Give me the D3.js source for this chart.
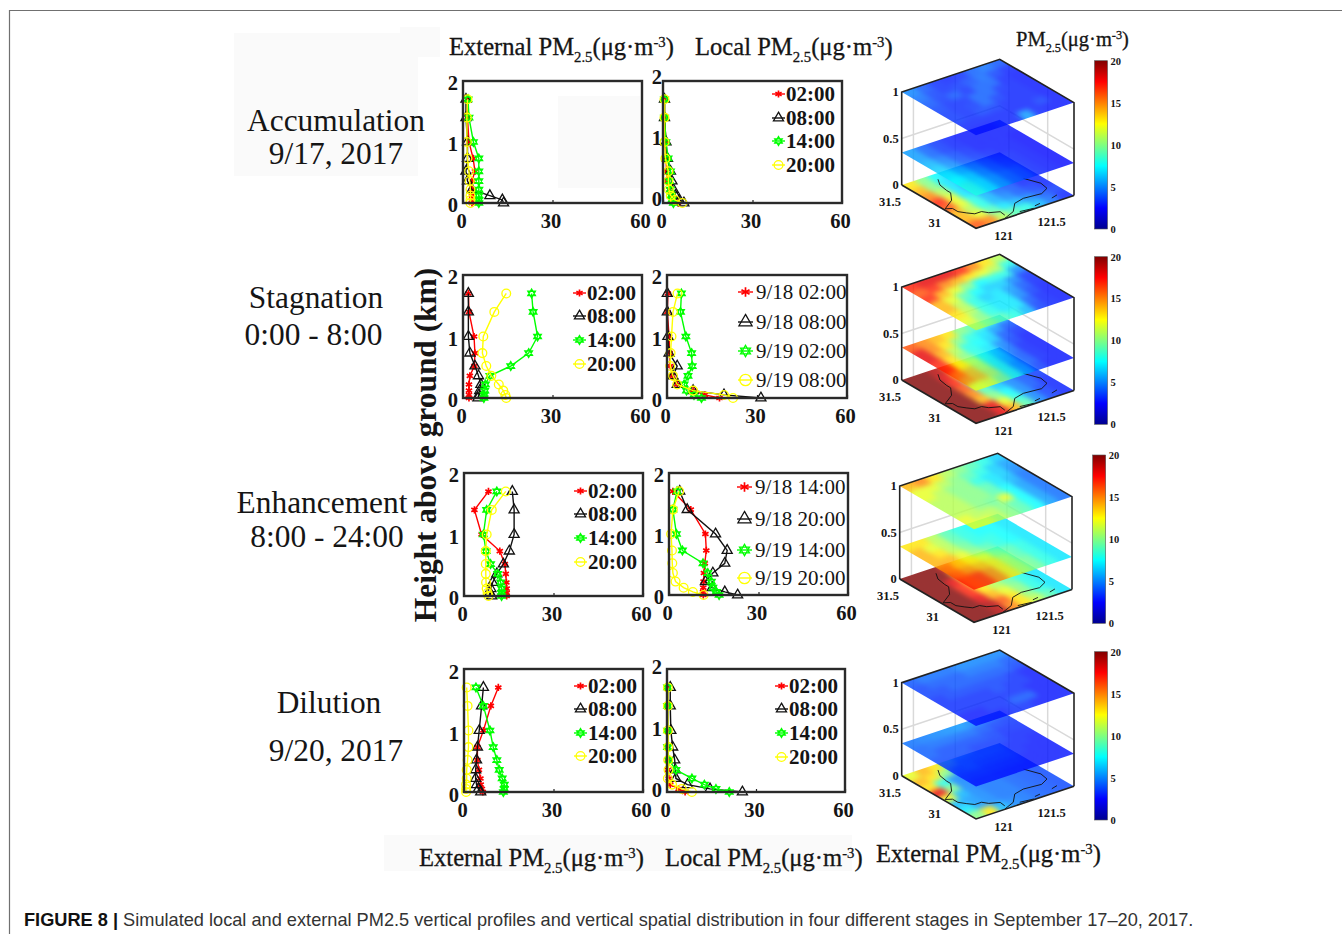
<!DOCTYPE html>
<html>
<head>
<meta charset="utf-8">
<script src="https://cdn.jsdelivr.net/npm/d3@7"></script>
<style>
  html, body { margin: 0; padding: 0; background: #fff; }
  svg { display: block; }
  text { font-family: "Liberation Serif", serif; fill: #151515; }
</style>
</head>
<body>
<div id="chart"></div>
<script>
// heights of the model levels (km)
var heights = [0, 0.05, 0.12, 0.22, 0.36, 0.52, 0.73, 1, 1.4, 1.7];

var timeLabels = ['02:00', '08:00', '14:00', '20:00'];
var dateLabelsA = ['9/18 02:00', '9/18 08:00', '9/19 02:00', '9/19 08:00'];
var dateLabelsB = ['9/18 14:00', '9/18 20:00', '9/19 14:00', '9/19 20:00'];
var seriesColors = ['#ff0000', '#111111', '#00ff00', '#ffff00'];
var seriesSymbols = ['asterisk', 'triangle', 'hexagram', 'circle'];

var xTicks = [0, 30, 60];
var yTicks = [0, 1, 2];
var barTicks = [0, 5, 10, 15, 20];

// profiles: red, black, green, yellow, each from the ground up
var accExternal = [
  [3, 3, 3, 3, 3, 4, 3.4, 2, 1.5, 1.5],
  [13.6, 13.2, 9, 3, 1.5, 1, 1.5, 1.5, 1, 1],
  [5.3, 5.3, 5.3, 5.3, 5.3, 5.3, 5.3, 3.5, 2, 1.7],
  [2.5, 2.5, 2.5, 2.5, 2.2, 2, 1.5, 1.3, 1.3, 1.5]
];
var accLocal = [
  [5, 3.8, 2.8, 2.2, 1.5, 1.2, 1, 1, 0.5, 0.5],
  [7, 5.5, 4.2, 3.5, 3, 2.5, 1.5, 1, 0.5, 0.5],
  [3.5, 3, 2.8, 2.5, 2.2, 2.5, 1.7, 1, 0.5, 0.5],
  [6.5, 4, 2.6, 2, 1.8, 1.8, 0.8, 0.5, 0.5, 0.5]
];
var stagExternal = [
  [2, 2, 2, 2, 2.3, 3.8, 4, 3.7, 2, 1.8],
  [5, 5.3, 5.6, 6, 5.2, 4, 2.3, 1.8, 1.8, 1.8],
  [7, 7.1, 7.3, 7.5, 9, 16, 22, 25, 23.5, 23],
  [14.5, 14.2, 13.5, 12, 9.5, 7.8, 6.5, 6.8, 10.5, 14.5]
];
var stagLocal = [
  [17.5, 12.6, 8.7, 3.4, 1.8, 1.1, 0.9, 0.7, 0.1, 0.3],
  [31.3, 19, 8.7, 3.4, 2, 3.4, 0.7, 0.3, 0.1, 0.1],
  [11.5, 9, 6.5, 5.7, 7, 8.4, 8.2, 6.3, 4.5, 4.8],
  [22, 19, 8.7, 3.4, 2, 1.1, 1.2, 1.5, 2, 3.5]
];
var enhExternal = [
  [14.3, 14.3, 14.3, 14.2, 14, 13.7, 12, 5.9, 3.5, 8.2],
  [9.3, 8.7, 9, 9.6, 11, 13.2, 15.2, 16.8, 16.8, 16.2],
  [12.6, 12.6, 12.6, 12.3, 11.3, 8.9, 7.4, 6.5, 7.6, 11],
  [8.2, 7.9, 7.6, 7.4, 7.3, 7.3, 7.3, 7.6, 9.3, 14]
];
var enhLocal = [
  [11.5, 11.4, 11.5, 11.6, 11.7, 12, 12.5, 12.2, 7.3, 1.3],
  [23, 18.7, 14.5, 12.2, 14.7, 18.7, 19.5, 15.6, 6.1, 3.6],
  [16.8, 15.9, 14.7, 14.2, 13, 11.4, 4.5, 2.5, 1.3, 2.7],
  [11.6, 8, 4.9, 2.2, 1.3, 1.1, 1, 0.7, 1.3, 3.4]
];
var dilExternal = [
  [6.3, 6, 5.6, 5.5, 5, 4.5, 4.5, 6.5, 9, 11.5],
  [5.6, 4.8, 4.2, 3.9, 3.9, 4.2, 4.5, 5.1, 5.9, 6.5],
  [13.2, 13.5, 13.5, 12.8, 11.8, 11, 9.8, 8.7, 6.5, 4],
  [0.7, 0.7, 0.7, 0.9, 0.9, 1.2, 1.5, 1.5, 1.2, 0.9]
];
var dilLocal = [
  [6.1, 3.9, 1.1, 0.6, 0.3, 0.2, 0.2, 0.2, 0.2, 0.2],
  [25.4, 14.5, 6.9, 3, 2.8, 2.6, 1.9, 1.3, 1.1, 1.1],
  [21, 16.5, 12.6, 8.4, 3, 0.6, 0.2, 0.2, 0.2, 0.2],
  [8.4, 5, 1.7, 0.3, 0.5, 0.4, 0.4, 0.3, 0.3, 0.3]
];

// map slices, PM2.5 read on a coarse grid. Rows run north to south, columns west to east
var accTop = [
  [5, 4, 3.2, 3, 3.2, 4.2, 4.6, 4], [4.5, 3.6, 3.2, 3.4, 3.8, 4.4, 3.6, 3],
  [4, 3.4, 4, 3.2, 4.2, 4.2, 3, 2.8], [3.6, 3.2, 3.2, 4.2, 4.2, 3.2, 3, 2.8],
  [3.4, 3.2, 3.4, 4.2, 3.4, 3, 3, 2.8], [3.4, 3.2, 3.6, 3.4, 3, 3, 3, 2.8],
  [3, 3, 3, 3, 3, 3, 3.5, 2.8], [2.8, 2.8, 3, 3, 5.5, 3, 2.8, 2.8]
];
var accMid = [
  [5.5, 4.2, 3.4, 3, 2.8, 2.8, 2.8, 2.8], [5.5, 4.2, 3.4, 3, 2.8, 2.8, 2.8, 2.8],
  [6, 4.8, 3.8, 3.2, 2.8, 2.8, 2.8, 2.6], [6.5, 5.2, 4, 3.4, 3, 2.8, 2.8, 2.6],
  [7, 5.8, 4.6, 3.8, 3.2, 3, 2.8, 2.6], [7.5, 6.5, 5, 4, 3.4, 3, 2.8, 2.6],
  [8, 7, 5.5, 4.4, 3.8, 3, 2.8, 2.6], [8, 7, 5.5, 4.4, 3.8, 3, 2.8, 2.6]
];
var accBase = [
  [13, 10, 7.5, 6, 5, 4, 3, 3], [14, 10, 7, 6, 5, 4, 3, 3],
  [15, 11, 7, 5, 4, 3.5, 3, 3], [17, 12, 7, 5.5, 4, 3.5, 3, 3],
  [16, 12, 8, 6, 4.5, 4, 3, 3], [14, 11, 8, 6, 5, 4, 3.5, 3],
  [14, 12, 9, 7, 6, 5, 4, 3.5], [16, 15, 11, 9, 8, 6, 4.5, 3]
];
var stagTop = [
  [17, 18, 18, 18, 17, 15, 13, 11], [16, 17, 15, 14, 13, 12, 11, 8],
  [17, 14, 12, 10, 7.5, 8, 8, 5], [14, 12, 9, 7.5, 6.5, 6.5, 5, 3.2],
  [14, 11, 8, 6.5, 7, 5.5, 4, 3], [13, 11, 8, 7, 7, 5, 3.5, 2.8],
  [12, 10, 8, 7, 7, 4, 3, 2.8], [11, 10, 9, 8, 6, 3.5, 3, 2.8]
];
var stagMid = [
  [16, 15, 14, 13, 10, 9, 8, 6.5], [18, 15, 13, 10, 8, 7, 5.5, 4],
  [18, 14, 11, 8, 7.5, 6.5, 4, 3.2], [17, 13, 10, 8, 7, 5, 3.5, 2.8],
  [17, 13, 11, 8, 6.5, 4.5, 3, 2.8], [16, 14, 11, 8, 6, 4, 3, 2.8],
  [15, 14, 11, 8, 5.5, 4, 3, 2.8], [12, 12, 10, 8, 5.5, 3.5, 2.8, 2.8]
];
var stagBase = [
  [20, 20, 19, 16, 12, 9, 6, 4], [20, 20, 18, 13, 8, 6.5, 4.5, 4],
  [20, 20, 17, 10, 7, 5, 4, 3.5], [20, 20, 16, 9, 6.5, 5, 4, 3.5],
  [20, 20, 15, 9, 6.5, 5, 4, 3.5], [20, 20, 14, 10, 7.5, 5, 4, 3],
  [20, 20, 18, 12, 8, 5, 3.5, 3], [20, 20, 18, 14, 9, 5, 3.5, 3]
];
var enhTop = [
  [14, 15, 13, 11, 10, 9, 8, 6.5], [12, 12, 11, 10, 9, 8, 6.5, 5.5],
  [12, 11, 10, 10, 8, 7, 6.5, 5], [11, 11, 10, 10, 9, 7, 6, 4.5],
  [11, 11, 10, 10, 9, 7.5, 5.5, 4.5], [11, 11, 10, 9.5, 12, 7.5, 5.5, 4.5],
  [12, 11, 11, 10, 9, 7.5, 5.5, 4.5], [12, 12, 11, 10, 9, 7.5, 5.5, 4.5]
];
var enhMid = [
  [13, 13, 11, 9, 8, 7.5, 7.5, 7], [14, 12, 11, 9, 8, 7.5, 7.5, 7],
  [14, 13, 11, 9.5, 8, 8, 7.5, 7], [14, 14, 12, 10, 9, 8, 7.5, 7],
  [15, 14, 13, 12, 10, 9, 8, 7], [16, 15, 14, 13, 11, 9, 8, 7],
  [17, 17, 15, 13, 11, 9.5, 8, 7], [17, 17, 15, 13, 11, 9.5, 8, 7]
];
var enhBase = [
  [20, 20, 20, 17, 13, 11, 9, 8], [20, 20, 20, 14, 11, 10, 8.5, 7.5],
  [20, 20, 18, 13, 11, 9.5, 8, 7], [20, 20, 17, 13, 11, 9.5, 8, 7],
  [20, 20, 17, 13, 11, 9.5, 8, 7], [20, 20, 18, 14, 12, 10, 8, 7],
  [20, 20, 19, 16, 13, 10, 8, 7], [20, 20, 19, 15, 13, 11, 9, 7]
];
var dilTop = [
  [4, 4.5, 4.5, 4.5, 5, 5, 5, 5], [3.6, 4, 4, 4, 4.5, 4.5, 4.5, 4],
  [3.6, 3.6, 4, 4, 4, 4, 4, 3.6], [3.2, 3.6, 3.6, 3.6, 3.6, 3.6, 3.2, 2.8],
  [3.2, 3.2, 3.2, 3.2, 3.6, 3.2, 3.2, 2.8], [3.2, 3.2, 3.2, 3.2, 3.2, 3.2, 2.8, 2.8],
  [2.8, 2.8, 3.2, 3.2, 4, 4, 2.8, 2.8], [2.8, 2.8, 2.8, 3.2, 3.2, 2.8, 2.8, 2.8]
];
var dilMid = [
  [4.6, 4.8, 5, 5.2, 5.4, 5, 4.4, 4], [4.2, 4.4, 4.4, 4.4, 4.4, 4, 3.6, 3.4],
  [4.2, 3.8, 3.8, 3.8, 3.8, 3.6, 3.2, 3.2], [3.8, 3.8, 3.8, 3.4, 3.4, 3.4, 3, 3],
  [3.4, 3.4, 3.4, 3.4, 3.4, 3, 3, 2.8], [3.2, 3.4, 3.2, 3.2, 3.2, 3, 2.8, 2.8],
  [3, 3, 3, 3, 3, 2.8, 2.8, 2.8], [2.8, 2.8, 2.8, 2.8, 2.8, 2.8, 2.8, 2.8]
];
var dilBase = [
  [12, 14, 13, 9, 5, 4.4, 4.2, 4], [14, 13, 10, 5, 4.6, 4.4, 4.2, 4],
  [13, 8, 5, 4.6, 4.6, 4.2, 4, 3.8], [18, 10, 5, 4.6, 4.6, 4.2, 4, 3.8],
  [12, 6, 5, 4.6, 4.6, 4.2, 4, 3.8], [6, 5.4, 5, 4.6, 4.6, 4.2, 4, 3.8],
  [7, 5.4, 5, 4.6, 4.6, 4.2, 4, 3.8], [10, 13, 6, 5, 4.6, 4.2, 4, 3.8]
];

var sliceLevels = [0, 0.35, 1];    // km, base, middle, top

// coastline, [lon, lat]
var coastWest = [[121.21, 31.53], [121.15, 31.44], [121.13, 31.33], [121.13, 31.28], [121.04, 31.17],
  [120.88, 31.08], [120.94, 31.05], [120.94, 30.98], [120.99, 30.92], [121.04, 30.87],
  [121.12, 30.87], [121.16, 30.82], [121.26, 30.78], [121.25, 30.71]];
var coastEast = [[121.21, 30.665], [121.36, 30.72], [121.48, 30.83], [121.61, 30.86], [121.81, 30.84],
  [121.92, 30.89], [121.94, 30.99], [121.87, 31.14]];
var islandA = [[121.41, 30.69], [121.56, 30.67]];
var islandB = [[121.6, 30.70], [121.67, 30.71]];
var islandC = [[121.83, 30.73], [121.91, 30.75]];

var width = 1342, height = 934;

var svg = d3.select('#chart').append('svg')
    .attr('width', width)
    .attr('height', height);
var defs = svg.append('defs');

// soft greys left in the scan behind the labels
var patches = [[234, 33, 184, 143], [400, 27, 40, 30], [558, 96, 82, 92], [384, 835, 468, 36]];
svg.selectAll('rect.patch').data(patches).enter().append('rect')
    .attr('class', 'patch')
    .attr('x', function(d){ return d[0]; })
    .attr('y', function(d){ return d[1]; })
    .attr('width', function(d){ return d[2]; })
    .attr('height', function(d){ return d[3]; })
    .attr('fill', '#fafafa');

// page frame
svg.append('path')
   .attr('d', 'M9.5,934V10.5H1342')
   .attr('fill', 'none')
   .attr('stroke', '#707070')
   .attr('stroke-width', 1.2);

// ---------- profile panels ----------
var hexagram = {
    draw: function(ctx, size){
        var r = Math.sqrt(size) * 0.78;
        for (var k = 0; k < 2; k++) {
            for (var i = 0; i < 3; i++) {
                var a = Math.PI * (k + 2 * i) / 3 - Math.PI / 2;
                var px = r * Math.cos(a), py = r * Math.sin(a);
                if (i === 0) ctx.moveTo(px, py); else ctx.lineTo(px, py);
            }
            ctx.closePath();
        }
    }
};
var symbolTypes = {
    asterisk: d3.symbolAsterisk,
    triangle: d3.symbolTriangle,
    hexagram: hexagram,
    circle: d3.symbolCircle
};
var symbolSizes = { asterisk: 36, triangle: 44, hexagram: 32, circle: 60 };

function drawMarker(sel, idx, k) {
    var name = seriesSymbols[idx];
    sel.append('path')
       .attr('d', d3.symbol().type(symbolTypes[name]).size(symbolSizes[name] * k * k)())
       .attr('fill', 'none')
       .attr('stroke', seriesColors[idx])
       .attr('stroke-width', name === 'asterisk' ? 1.7 : 1.3);
}

// x0, x1, y0 (top), y1 (bottom), y label shift and gap, legend place
var panels = [
    { box: [463, 642, 81, 203],  yShift: 2,  yGap: 5, series: accExternal },
    { box: [663, 842, 81, 203],  yShift: -4, yGap: 1, series: accLocal, labels: timeLabels,
      legend: { x: 772, ys: [94, 118, 141, 165], w: 13, bold: true, k: 1 } },
    { box: [463, 642, 275, 398], yShift: 2,  yGap: 5, series: stagExternal, labels: timeLabels,
      legend: { x: 573, ys: [293, 316, 340, 364], w: 13, bold: true, k: 1 } },
    { box: [667, 847, 275, 398], yShift: 2,  yGap: 5, series: stagLocal, labels: dateLabelsA,
      legend: { x: 738, ys: [292, 322, 351, 380], w: 15, bold: false, k: 1.3 } },
    { box: [464, 643, 473, 596], yShift: 2,  yGap: 5, series: enhExternal, labels: timeLabels,
      legend: { x: 574, ys: [491, 514, 538, 562], w: 13, bold: true, k: 1 } },
    { box: [669, 848, 473, 595], yShift: 2,  yGap: 5, series: enhLocal, labels: dateLabelsB,
      legend: { x: 737, ys: [487, 519, 550, 578], w: 15, bold: false, k: 1.3 } },
    { box: [464, 643, 669, 792], yShift: 3,  yGap: 5, series: dilExternal, labels: timeLabels,
      legend: { x: 574, ys: [686, 709, 733, 756], w: 13, bold: true, k: 1 } },
    { box: [667, 845, 669, 792], yShift: -2, yGap: 5, series: dilLocal, labels: timeLabels,
      legend: { x: 775, ys: [686, 709, 733, 757], w: 13, bold: true, k: 1 } }
];

panels.forEach(function(p){
    var scale_x = d3.scaleLinear().domain([0, 60]).range([p.box[0], p.box[1]]);
    var scale_y = d3.scaleLinear().domain([0, 2]).range([p.box[3], p.box[2]]);
    var g = svg.append('g').attr('class', 'panel');

    var axis_x = d3.axisBottom(scale_x).tickValues(xTicks).tickSize(-3).tickPadding(10);
    var axis_y = d3.axisLeft(scale_y).tickValues(yTicks).tickFormat(d3.format('d')).tickSize(0).tickPadding(p.yGap);

    var gx = g.append('g')
       .attr('transform', 'translate(0,' + p.box[3] + ')')
       .call(axis_x);
    var gy = g.append('g')
       .attr('transform', 'translate(' + p.box[0] + ',' + p.yShift + ')')
       .call(axis_y);
    gx.selectAll('text').attr('dx', -2);
    [gx, gy].forEach(function(a){
        a.select('.domain').remove();
        a.selectAll('line').attr('stroke', '#222').attr('stroke-width', 1.2);
        a.selectAll('text')
         .attr('font-family', '"Liberation Serif", serif')
         .attr('font-size', 20.5)
         .attr('font-weight', 'bold')
         .attr('fill', '#1c1c1c');
    });

    var line = d3.line()
        .x(function(d){ return scale_x(d[0]); })
        .y(function(d){ return scale_y(d[1]); });

    p.series.forEach(function(vals, idx){
        var pts = vals.map(function(v, i){ return [v, heights[i]]; });
        g.append('path')
         .attr('d', line(pts))
         .attr('fill', 'none')
         .attr('stroke', seriesColors[idx])
         .attr('stroke-width', 1.4);
        pts.forEach(function(pt){
            var m = g.append('g')
               .attr('transform', 'translate(' + scale_x(pt[0]) + ',' + scale_y(pt[1]) + ')');
            drawMarker(m, idx, 1);
        });
    });

    g.append('rect')
     .attr('x', p.box[0])
     .attr('y', p.box[2])
     .attr('width', p.box[1] - p.box[0])
     .attr('height', p.box[3] - p.box[2])
     .attr('fill', 'none')
     .attr('stroke', '#2a2a2a')
     .attr('stroke-width', 2.4);

    if (p.legend) {
        p.labels.forEach(function(label, idx){
            var ly = p.legend.ys[idx], lx = p.legend.x, lw = p.legend.w;
            g.append('line')
             .attr('x1', lx).attr('x2', lx + lw)
             .attr('y1', ly).attr('y2', ly)
             .attr('stroke', seriesColors[idx])
             .attr('stroke-width', 1.4);
            var m = g.append('g').attr('transform', 'translate(' + (lx + lw / 2) + ',' + ly + ')');
            drawMarker(m, idx, p.legend.k);
            g.append('text')
             .attr('x', lx + lw + (p.legend.bold ? 1 : 3))
             .attr('y', ly + 7)
             .attr('font-size', 21)
             .attr('font-weight', p.legend.bold ? 'bold' : 'normal')
             .text(label);
        });
    }
});

// ---------- 3D map stacks ----------
var jet = d3.scaleLinear()
    .domain([0, 2.5, 7.5, 12.5, 17.5, 20])
    .range(['#00008f', '#0000ff', '#00ffff', '#ffff00', '#ff0000', '#800000']);

var scale_lon = d3.scaleLinear().domain([120.86, 122.03]).range([0, 1]);
var scale_lat = d3.scaleLinear().domain([30.66, 31.62]).range([0, 1]);
var gridCol = d3.scaleLinear().domain([0, 8]).range([0, 1]);
var gridRow = d3.scaleLinear().domain([0, 8]).range([1, 0]);

var toRight = [98, -32.7], toLeft = [-74.3, -43.3], boxUp = 93;

var blur = defs.append('filter')
    .attr('id', 'soft')
    .attr('filterUnits', 'userSpaceOnUse')
    .attr('x', 0).attr('y', 0).attr('width', width).attr('height', height)
    .attr('color-interpolation-filters', 'sRGB');
blur.append('feGaussianBlur').attr('stdDeviation', 2.8);
blur.append('feComponentTransfer').append('feFuncA')
    .attr('type', 'linear').attr('slope', 40);

var stacks = [
    { origin: [976, 228.3], bar: [1094.5, 60.7, 229],    grids: [accBase, accMid, accTop] },
    { origin: [976, 423.3], bar: [1094.5, 256.7, 424.3], grids: [stagBase, stagMid, stagTop] },
    { origin: [974, 622.3], bar: [1092.7, 455, 623.3],   grids: [enhBase, enhMid, enhTop] },
    { origin: [976, 819],   bar: [1094.5, 651.7, 820],   grids: [dilBase, dilMid, dilTop] }
];

var lonTicks = [121, 121.5], latTicks = [31, 31.5], zTicks = [0, 0.5, 1];

stacks.forEach(function(s, si){
    function project(u, v, z) {
        return [s.origin[0] + u * toRight[0] + v * toLeft[0],
                s.origin[1] + u * toRight[1] + v * toLeft[1] - z * boxUp];
    }
    var geoLine = d3.line()
        .x(function(d){ return project(scale_lon(d[0]), scale_lat(d[1]), 0)[0]; })
        .y(function(d){ return project(scale_lon(d[0]), scale_lat(d[1]), 0)[1]; });
    var g = svg.append('g').attr('class', 'stack');

    function seg(pts, color, w) {
        g.append('path')
         .attr('d', d3.line()(pts))
         .attr('fill', 'none')
         .attr('stroke', color)
         .attr('stroke-width', w);
    }

    // back walls
    seg([project(0, 1, 0.5), project(1, 1, 0.5), project(1, 0, 0.5)], '#d9d9d9', 1.5);
    lonTicks.forEach(function(t){
        seg([project(scale_lon(t), 1, 0), project(scale_lon(t), 1, 1)], '#d9d9d9', 1.5);
    });
    latTicks.forEach(function(t){
        seg([project(1, scale_lat(t), 0), project(1, scale_lat(t), 1)], '#d9d9d9', 1.5);
    });

    s.grids.forEach(function(grid, li){
        var z = sliceLevels[li];
        var id = 'clip' + si + '_' + li;
        defs.append('clipPath').attr('id', id).append('polygon')
            .attr('points', [project(0, 0, z), project(1, 0, z), project(1, 1, z), project(0, 1, z)].join(' '));
        var outer = g.append('g').attr('clip-path', 'url(#' + id + ')').attr('opacity', 0.8);
        var cells = outer.append('g').attr('filter', 'url(#soft)');
        grid.forEach(function(row, r){
            row.forEach(function(v, c){
                cells.append('polygon')
                     .attr('points', [
                        project(gridCol(c), gridRow(r), z),
                        project(gridCol(c + 1), gridRow(r), z),
                        project(gridCol(c + 1), gridRow(r + 1), z),
                        project(gridCol(c), gridRow(r + 1), z)
                     ].join(' '))
                     .attr('fill', jet(v))
                     .attr('stroke', jet(v))
                     .attr('stroke-width', 0.6);
            });
        });
        if (li === 0) {
            [coastWest, coastEast, islandA, islandB, islandC].forEach(function(c){
                g.append('path')
                 .attr('d', geoLine(c))
                 .attr('fill', 'none')
                 .attr('stroke', '#111')
                 .attr('stroke-width', 0.9);
            });
            seg([project(0, 1, 0), project(0, 0, 0), project(1, 0, 0)], '#222', 1.6);
        }
    });

    // box edges
    seg([project(0, 1, 0), project(0, 1, 1), project(1, 1, 1), project(1, 0, 1), project(1, 0, 0)], '#222', 1.6);

    // axis labels
    function label(pos, dx, dy, txt, anchor) {
        g.append('text')
         .attr('x', pos[0] + dx)
         .attr('y', pos[1] + dy)
         .attr('text-anchor', anchor)
         .attr('font-size', 12.5)
         .attr('font-weight', 'bold')
         .text(txt);
    }
    zTicks.forEach(function(t){
        label(project(0, 1, t), -3, 4, t, 'end');
    });
    latTicks.forEach(function(t){
        label(project(0, scale_lat(t), 0), t === 31 ? -15 : -21, t === 31 ? 14 : 16, t, 'middle');
    });
    lonTicks.forEach(function(t){
        label(project(scale_lon(t), 0, 0), t === 121 ? 16 : 22, 16, t, 'middle');
    });

    // colour bar
    var gradId = 'jet' + si;
    var grad = defs.append('linearGradient').attr('id', gradId)
        .attr('x1', 0).attr('x2', 0).attr('y1', 1).attr('y2', 0);
    jet.domain().forEach(function(v){
        grad.append('stop').attr('offset', v / 20).attr('stop-color', jet(v));
    });
    var scale_bar = d3.scaleLinear().domain([0, 20]).range([s.bar[2], s.bar[1]]);
    g.append('rect')
     .attr('x', s.bar[0]).attr('y', s.bar[1])
     .attr('width', 13).attr('height', s.bar[2] - s.bar[1])
     .attr('fill', 'url(#' + gradId + ')')
     .attr('stroke', '#555').attr('stroke-width', 0.6);
    var axis_bar = g.append('g')
        .attr('transform', 'translate(' + (s.bar[0] + 13) + ',0)')
        .call(d3.axisRight(scale_bar).tickValues(barTicks).tickSize(0).tickPadding(3));
    axis_bar.select('.domain').remove();
    axis_bar.selectAll('text')
        .attr('font-family', '"Liberation Serif", serif')
        .attr('font-size', 10.5)
        .attr('font-weight', 'bold')
        .attr('fill', '#1c1c1c');
});

// ---------- texts ----------
function pmLabel(x, y, size, prefix, thick, clip) {
    var t = svg.append('text')
        .attr('x', x).attr('y', y)
        .attr('font-size', size)
        .attr('stroke', '#151515')
        .attr('stroke-width', thick);
    if (clip) t.attr('clip-path', 'url(#' + clip + ')');
    t.append('tspan').text(prefix + 'PM');
    t.append('tspan').attr('font-size', size * 0.6).attr('dy', size * 0.3).text('2.5');
    t.append('tspan').attr('dy', -size * 0.3).text('(μg·m');
    t.append('tspan').attr('font-size', size * 0.6).attr('dy', -size * 0.32).text('-3');
    t.append('tspan').attr('dy', size * 0.32).text(')');
}
defs.append('clipPath').attr('id', 'cutTop').append('rect')
    .attr('x', 680).attr('y', 20).attr('width', 213).attr('height', 60);

pmLabel(449, 55, 24.6, 'External ', 0.3);
pmLabel(695, 55, 24.6, 'Local ', 0.3, 'cutTop');
pmLabel(1016, 46, 20.5, '', 0.3);
pmLabel(419, 866, 24.6, 'External ', 0.3);
pmLabel(665, 866, 24.6, 'Local ', 0.3);
pmLabel(876, 862, 24.6, 'External ', 0.3);

var stageLabels = [
    ['Accumulation', 336, 131], ['9/17, 2017', 336, 164],
    ['Stagnation', 316, 308],   ['0:00 - 8:00', 313.5, 345],
    ['Enhancement', 322, 513],  ['8:00 - 24:00', 327, 547],
    ['Dilution', 329, 713],     ['9/20, 2017', 336, 761]
];
svg.selectAll('text.stage').data(stageLabels).enter().append('text')
    .attr('class', 'stage')
    .attr('x', function(d){ return d[1]; })
    .attr('y', function(d){ return d[2]; })
    .attr('font-size', 31.4)
    .attr('text-anchor', 'middle')
    .text(function(d){ return d[0]; });

svg.append('text')
   .attr('transform', 'translate(436,445) rotate(-90)')
   .attr('text-anchor', 'middle')
   .attr('font-size', 31.4)
   .attr('font-weight', 'bold')
   .text('Height above ground (km)');

var caption = svg.append('text')
    .attr('x', 24).attr('y', 925.5)
    .attr('font-size', 18.2)
    .style('font-family', '"Liberation Sans", sans-serif');
caption.append('tspan').attr('font-weight', 'bold').style('fill', '#111').text('FIGURE 8 | ');
caption.append('tspan').style('fill', '#333')
    .text('Simulated local and external PM2.5 vertical profiles and vertical spatial distribution in four different stages in September 17–20, 2017.');
</script>
</body>
</html>
